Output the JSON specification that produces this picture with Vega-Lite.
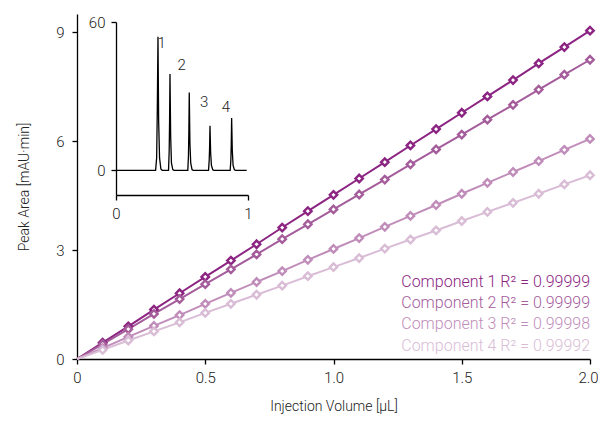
{
  "$schema": "https://vega.github.io/schema/vega-lite/v6.json",
  "width": 513,
  "height": 345,
  "autosize": "none",
  "padding": {"left": 77, "top": 14, "right": 8, "bottom": 70},
  "config": {
    "font": "Roboto",
    "view": {"stroke": null},
    "text": {"font": "Roboto"},
    "axis": {"grid": false, "domainColor": "#000", "tickColor": "#000", "labelColor": "#222", "titleColor": "#222", "labelFont": "Roboto", "titleFont": "Roboto", "labelFontSize": 15, "labelFontWeight": 300, "titleFontSize": 14, "titleFontWeight": 300, "tickSize": 5, "domainWidth": 1.3, "tickWidth": 1.3}
  },
  "datasets": {
    "cal": [
      {"x": 0, "Component 1": 0, "Component 2": 0, "Component 3": 0, "Component 4": 0},
      {"x": 0.1, "Component 1": 0.45, "Component 2": 0.41, "Component 3": 0.30, "Component 4": 0.25},
      {"x": 0.2, "Component 1": 0.90, "Component 2": 0.82, "Component 3": 0.61, "Component 4": 0.51},
      {"x": 0.3, "Component 1": 1.36, "Component 2": 1.24, "Component 3": 0.91, "Component 4": 0.76},
      {"x": 0.4, "Component 1": 1.81, "Component 2": 1.65, "Component 3": 1.21, "Component 4": 1.01},
      {"x": 0.5, "Component 1": 2.26, "Component 2": 2.06, "Component 3": 1.52, "Component 4": 1.27},
      {"x": 0.6, "Component 1": 2.71, "Component 2": 2.47, "Component 3": 1.82, "Component 4": 1.52},
      {"x": 0.7, "Component 1": 3.16, "Component 2": 2.88, "Component 3": 2.12, "Component 4": 1.77},
      {"x": 0.8, "Component 1": 3.62, "Component 2": 3.30, "Component 3": 2.42, "Component 4": 2.02},
      {"x": 0.9, "Component 1": 4.07, "Component 2": 3.71, "Component 3": 2.73, "Component 4": 2.28},
      {"x": 1.0, "Component 1": 4.52, "Component 2": 4.12, "Component 3": 3.03, "Component 4": 2.53},
      {"x": 1.1, "Component 1": 4.97, "Component 2": 4.53, "Component 3": 3.33, "Component 4": 2.78},
      {"x": 1.2, "Component 1": 5.42, "Component 2": 4.94, "Component 3": 3.64, "Component 4": 3.04},
      {"x": 1.3, "Component 1": 5.88, "Component 2": 5.36, "Component 3": 3.94, "Component 4": 3.29},
      {"x": 1.4, "Component 1": 6.33, "Component 2": 5.77, "Component 3": 4.24, "Component 4": 3.54},
      {"x": 1.5, "Component 1": 6.78, "Component 2": 6.18, "Component 3": 4.55, "Component 4": 3.80},
      {"x": 1.6, "Component 1": 7.23, "Component 2": 6.59, "Component 3": 4.85, "Component 4": 4.05},
      {"x": 1.7, "Component 1": 7.68, "Component 2": 7.00, "Component 3": 5.15, "Component 4": 4.30},
      {"x": 1.8, "Component 1": 8.14, "Component 2": 7.42, "Component 3": 5.45, "Component 4": 4.55},
      {"x": 1.9, "Component 1": 8.59, "Component 2": 7.83, "Component 3": 5.76, "Component 4": 4.81},
      {"x": 2.0, "Component 1": 9.04, "Component 2": 8.24, "Component 3": 6.06, "Component 4": 5.06}
    ],
    "legend": [
      {"x": 2.0, "y": 2.13, "series": "Component 1", "label": "Component 1 R² = 0.99999"},
      {"x": 2.0, "y": 1.54, "series": "Component 2", "label": "Component 2 R² = 0.99999"},
      {"x": 2.0, "y": 0.97, "series": "Component 3", "label": "Component 3 R² = 0.99998"},
      {"x": 2.0, "y": 0.37, "series": "Component 4", "label": "Component 4 R² = 0.99992"}
    ],
    "chrom": [
      {"t": 0, "a": 0}, {"t": 0.30, "a": 0}, {"t": 0.308, "a": 5}, {"t": 0.313, "a": 25}, {"t": 0.318, "a": 54}, {"t": 0.323, "a": 20}, {"t": 0.33, "a": 5}, {"t": 0.34, "a": 0.5}, {"t": 0.35, "a": 0},
      {"t": 0.398, "a": 0}, {"t": 0.403, "a": 8}, {"t": 0.406, "a": 20}, {"t": 0.409, "a": 39}, {"t": 0.414, "a": 14}, {"t": 0.42, "a": 3}, {"t": 0.43, "a": 0.3}, {"t": 0.44, "a": 0},
      {"t": 0.544, "a": 0}, {"t": 0.549, "a": 6}, {"t": 0.552, "a": 16}, {"t": 0.555, "a": 31.5}, {"t": 0.56, "a": 11}, {"t": 0.566, "a": 3}, {"t": 0.576, "a": 0.3}, {"t": 0.585, "a": 0},
      {"t": 0.701, "a": 0}, {"t": 0.706, "a": 4}, {"t": 0.709, "a": 9}, {"t": 0.712, "a": 18}, {"t": 0.717, "a": 7}, {"t": 0.723, "a": 2}, {"t": 0.733, "a": 0.2}, {"t": 0.742, "a": 0},
      {"t": 0.865, "a": 0}, {"t": 0.87, "a": 4}, {"t": 0.873, "a": 10}, {"t": 0.876, "a": 21.2}, {"t": 0.881, "a": 8}, {"t": 0.887, "a": 2}, {"t": 0.897, "a": 0.2}, {"t": 0.906, "a": 0},
      {"t": 0.99, "a": 0}
    ],
    "peaks": [
      {"t": 0.346, "a": 51.5, "label": "1"},
      {"t": 0.498, "a": 42.6, "label": "2"},
      {"t": 0.667, "a": 27.7, "label": "3"},
      {"t": 0.833, "a": 25.7, "label": "4"}
    ]
  },
  "layer": [
    {
      "encoding": {
        "x": {"field": "x", "type": "quantitative", "scale": {"domain": [0, 2], "nice": false},
              "axis": {"values": [0, 0.5, 1, 1.5, 2], "labelExpr": "datum.value == 0 ? '0' : format(datum.value, '.1f')", "title": "Injection Volume [μL]", "titlePadding": 14, "labelPadding": 6, "labelFlush": false,
                       "labelOffset": {"condition": {"test": "datum.value == 2", "value": -2}, "value": 0}}},
        "y": {"field": "y", "type": "quantitative", "scale": {"domain": [0, 9.5], "nice": false},
              "axis": {"values": [0, 3, 6, 9], "title": "Peak Area [mAU·min]", "titlePadding": 24, "labelPadding": 8}},
        "color": {"field": "series", "type": "nominal", "legend": null,
                  "scale": {"domain": ["Component 1", "Component 2", "Component 3", "Component 4"], "range": ["#8C2482", "#A45C9B", "#C08DBA", "#D9BDD6"]}}
      },
      "layer": [
        {
          "data": {"name": "cal"},
          "transform": [{"fold": ["Component 1", "Component 2", "Component 3", "Component 4"], "as": ["series", "y"]}],
          "mark": {"type": "line", "strokeWidth": 2}
        },
        {
          "data": {"name": "cal"},
          "transform": [{"fold": ["Component 1", "Component 2", "Component 3", "Component 4"], "as": ["series", "y"]}, {"filter": "datum.x > 0"}],
          "mark": {"type": "point", "shape": "diamond", "filled": false, "fill": "white", "fillOpacity": 1, "strokeWidth": 2.4, "size": 55, "opacity": 1}
        },
        {
          "data": {"name": "legend"},
          "mark": {"type": "text", "align": "right", "baseline": "middle", "fontSize": 16, "fontWeight": 300, "font": "Roboto"},
          "encoding": {"text": {"field": "label"}}
        }
      ]
    },
    {
      "encoding": {
        "x": {"field": "t", "type": "quantitative", "scale": {"domain": [0, 1], "range": [39, 171], "nice": false, "zero": false},
              "axis": {"orient": "bottom", "offset": -164, "values": [0, 1], "format": "d", "title": null, "labelPadding": 6, "labelFlush": false}},
        "y": {"field": "a", "type": "quantitative", "scale": {"domain": [-10, 60], "range": [181, 8], "nice": false, "zero": false},
              "axis": {"orient": "left", "offset": -39, "values": [0, 60], "title": null, "labelPadding": 6}}
      },
      "layer": [
        {"data": {"name": "chrom"}, "mark": {"type": "line", "color": "#000", "strokeWidth": 1.3}},
        {"data": {"name": "peaks"}, "mark": {"type": "text", "fontSize": 15, "fontWeight": 300, "color": "#222", "baseline": "middle", "align": "center", "font": "Roboto"}, "encoding": {"text": {"field": "label"}}}
      ]
    }
  ],
  "resolve": {"scale": {"x": "independent", "y": "independent", "color": "independent"}, "axis": {"x": "independent", "y": "independent"}}
}
